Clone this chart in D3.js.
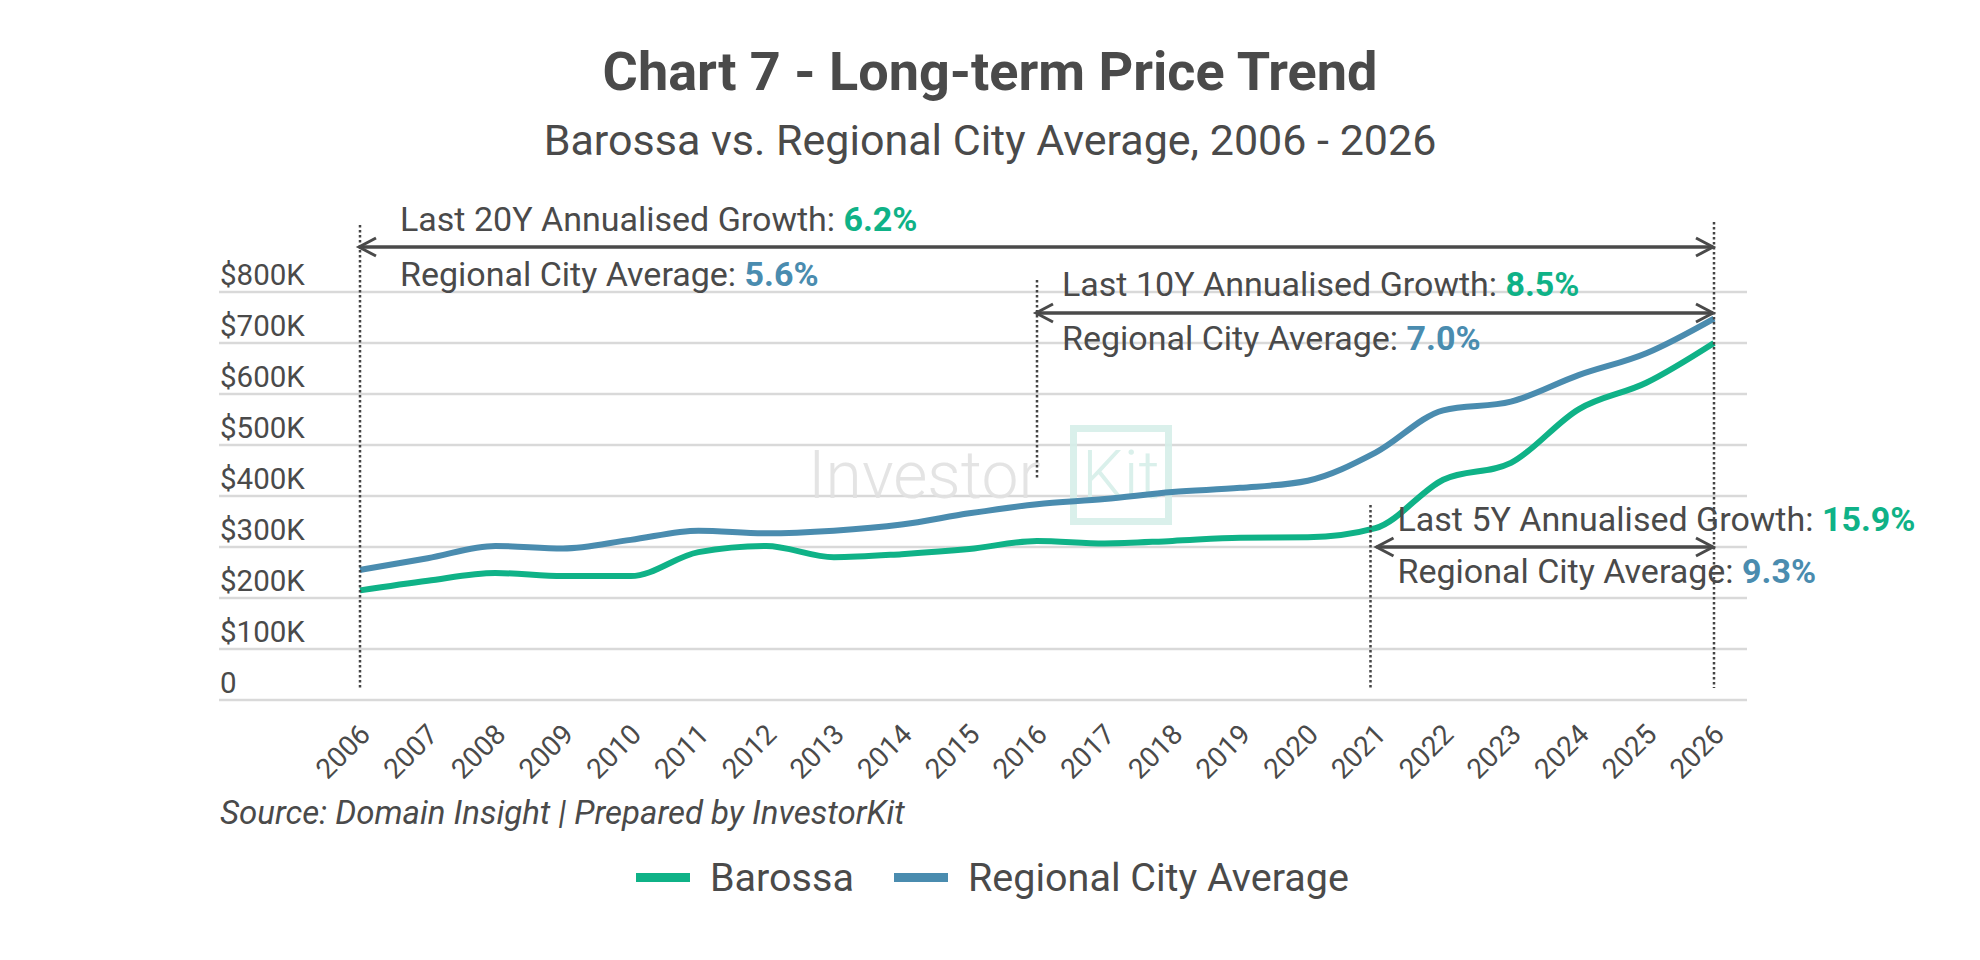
<!DOCTYPE html>
<html>
<head>
<meta charset="utf-8">
<script src="https://cdn.jsdelivr.net/npm/d3@7"></script>
<style>
  body { margin: 0; background: #fff; }
  text { font-family: Roboto, "Noto Sans", sans-serif; }
</style>
</head>
<body>
<div id="chart"></div>
<script>
// data
const years = [2006, 2007, 2008, 2009, 2010, 2011, 2012, 2013, 2014, 2015, 2016,
               2017, 2018, 2019, 2020, 2021, 2022, 2023, 2024, 2025, 2026];
const barossa = [215, 234, 249, 243, 243, 290, 302, 280, 286, 296, 312,
                 307, 312, 318, 319, 337, 432, 465, 570, 622, 700].map(d => d * 1000);
const regional = [255, 278, 302, 297, 314, 332, 327, 332, 344, 366, 384,
                  394, 408, 416, 430, 485, 568, 585, 637, 680, 748].map(d => d * 1000);
const yTicks = [0, 100000, 200000, 300000, 400000, 500000, 600000, 700000, 800000];

const periods = [
  { from: 2006, label: "Last 20Y Annualised Growth: ", own: "6.2%", avg: "5.6%" },
  { from: 2016, label: "Last 10Y Annualised Growth: ", own: "8.5%", avg: "7.0%" },
  { from: 2021, label: "Last 5Y Annualised Growth: ", own: "15.9%", avg: "9.3%" }
];

let width = 1980,
    height = 960,
    green = "#0fb287",
    blue = "#4a8caf",
    ink = "#4a4a4a";

const svg = d3.select("#chart")
  .append("svg")
  .attr("width", width)
  .attr("height", height)
  .style("background", "#fff");

let x = d3.scaleLinear().domain([2006, 2026]).range([360, 1714]);
let y = d3.scaleLinear().domain([0, 800000]).range([700, 292]);

// titles
svg.append("text")
  .attr("x", 990).attr("y", 90)
  .attr("text-anchor", "middle")
  .attr("font-size", 54).attr("font-weight", 700)
  .attr("fill", ink)
  .text("Chart 7 - Long-term Price Trend");

svg.append("text")
  .attr("x", 990).attr("y", 155)
  .attr("text-anchor", "middle")
  .attr("font-size", 43)
  .attr("fill", ink)
  .text("Barossa vs. Regional City Average, 2006 - 2026");

// grid + y labels
let grid = svg.append("g");
grid.selectAll("line")
  .data(yTicks)
  .join("line")
  .attr("x1", 219).attr("x2", 1747)
  .attr("y1", d => y(d)).attr("y2", d => y(d))
  .attr("stroke", "#d9d9d9")
  .attr("stroke-width", 2.7);

grid.selectAll("text")
  .data(yTicks)
  .join("text")
  .attr("x", 220)
  .attr("y", d => y(d) - 7)
  .attr("font-size", 29.5)
  .attr("fill", ink)
  .text(d => d === 0 ? "0" : "$" + d / 1000 + "K");

// x labels, rotated
svg.append("g")
  .selectAll("text")
  .data(years)
  .join("text")
  .attr("transform", d => `translate(${x(d) + 12},736) rotate(-45)`)
  .attr("text-anchor", "end")
  .attr("font-size", 28)
  .attr("fill", ink)
  .text(d => d);

// watermark
let wm = svg.append("g").attr("opacity", 0.9);
wm.append("text")
  .attr("x", 808).attr("y", 498)
  .attr("font-family", "Lato").attr("font-weight", 300)
  .attr("font-size", 66)
  .attr("fill", "#e2e2e2")
  .text("Investor");
wm.append("rect")
  .attr("x", 1073.5).attr("y", 428.5)
  .attr("width", 95).attr("height", 93)
  .attr("fill", "none")
  .attr("stroke", "#d6efe9")
  .attr("stroke-width", 7);
wm.append("text")
  .attr("x", 1082).attr("y", 498)
  .attr("font-family", "Lato").attr("font-weight", 300)
  .attr("font-size", 66)
  .attr("fill", "#d6efe9")
  .text("Kit");

// series lines
let line = d3.line()
  .x((d, i) => x(years[i]))
  .y(d => y(d))
  .curve(d3.curveMonotoneX);

svg.append("path")
  .datum(regional)
  .attr("fill", "none")
  .attr("stroke", blue)
  .attr("stroke-width", 6)
  .attr("d", line);

svg.append("path")
  .datum(barossa)
  .attr("fill", "none")
  .attr("stroke", green)
  .attr("stroke-width", 6)
  .attr("d", line);

// annotation arrows
let defs = svg.append("defs");
["start", "end"].forEach(k => {
  defs.append("marker")
    .attr("id", "arrow-" + k)
    .attr("markerUnits", "userSpaceOnUse")
    .attr("viewBox", "-20 -12 40 24")
    .attr("markerWidth", 40).attr("markerHeight", 24)
    .attr("refX", 0).attr("refY", 0)
    .attr("orient", "auto")
    .append("path")
    .attr("d", k === "end" ? "M-17,-9 L0,0 L-17,9" : "M17,-9 L0,0 L17,9")
    .attr("fill", "none")
    .attr("stroke", "#4a4a4a")
    .attr("stroke-width", 3);
});

// vertical dotted guides: [year, top, bottom]
const guides = [[2006, 225, 688], [2016, 280, 480], [2021, 505, 688], [2026, 222, 688]];
svg.append("g")
  .selectAll("line")
  .data(guides)
  .join("line")
  .attr("x1", d => x(d[0]) - (d[0] === 2021 ? 5 : 0))
  .attr("x2", d => x(d[0]) - (d[0] === 2021 ? 5 : 0))
  .attr("y1", d => d[1]).attr("y2", d => d[2])
  .attr("stroke", "#444")
  .attr("stroke-width", 2.5)
  .attr("stroke-dasharray", "2.5,2.5");

// arrow y, first baseline, second baseline, text offset
const annoPos = [[247, 231, 286, 40], [313, 296, 350, 25], [547, 531, 583, 22]];

periods.forEach((p, i) => {
  let [ay, b1, b2, dx] = annoPos[i];
  svg.append("line")
    .attr("x1", x(p.from) + (p.from === 2021 ? 1 : -1)).attr("x2", x(2026) - 1)
    .attr("y1", ay).attr("y2", ay)
    .attr("stroke", "#4a4a4a")
    .attr("stroke-width", 3.3)
    .attr("marker-start", "url(#arrow-start)")
    .attr("marker-end", "url(#arrow-end)");

  let t1 = svg.append("text")
    .attr("x", x(p.from) + dx).attr("y", b1)
    .attr("font-size", 34)
    .attr("fill", ink);
  t1.append("tspan").text(p.label);
  t1.append("tspan").attr("font-weight", 700).attr("fill", green).text(p.own);

  let t2 = svg.append("text")
    .attr("x", x(p.from) + dx).attr("y", b2)
    .attr("font-size", 34)
    .attr("fill", ink);
  t2.append("tspan").text("Regional City Average: ");
  t2.append("tspan").attr("font-weight", 700).attr("fill", blue).text(p.avg);
});

// source
svg.append("text")
  .attr("x", 220).attr("y", 824)
  .attr("font-size", 33)
  .attr("font-style", "italic")
  .attr("fill", ink)
  .text("Source: Domain Insight | Prepared by InvestorKit");

// legend
const legend = [["Barossa", green, 636], ["Regional City Average", blue, 894]];
let lg = svg.append("g");
legend.forEach(([name, c, lx]) => {
  lg.append("rect")
    .attr("x", lx).attr("y", 873)
    .attr("width", 54).attr("height", 9)
    .attr("fill", c);
  lg.append("text")
    .attr("x", lx + 74).attr("y", 891)
    .attr("font-size", 39.5)
    .attr("fill", ink)
    .text(name);
});
</script>
</body>
</html>
